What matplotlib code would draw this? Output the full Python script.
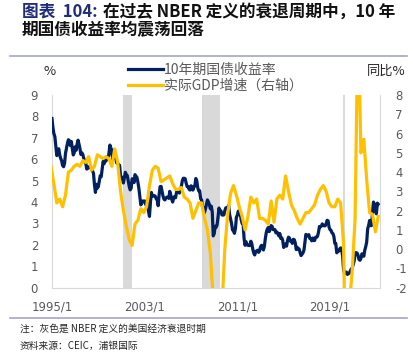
import pandas as pd
import matplotlib.pyplot as plt
from matplotlib.lines import Line2D

plt.rcParams['font.family'] = ['Noto Sans CJK SC', 'DejaVu Sans']

# 10年期国债收益率, monthly 1995/1 - 2023/3 (%)
yield_10y = [
    7.90, 7.47, 7.20, 7.06, 6.63, 6.17, 6.28, 6.49, 6.20, 6.04, 5.93, 5.71,  # 1995
    5.65, 5.81, 6.27, 6.51, 6.74, 6.91, 6.87, 6.64, 6.83, 6.53, 6.20, 6.30,  # 1996
    6.58, 6.42, 6.69, 6.89, 6.71, 6.49, 6.22, 6.30, 6.21, 6.03, 5.88, 5.81,  # 1997
    5.54, 5.57, 5.65, 5.64, 5.65, 5.50, 5.46, 5.34, 4.81, 4.45, 4.83, 4.65,  # 1998
    4.72, 5.00, 5.23, 5.18, 5.54, 5.90, 5.79, 5.94, 5.92, 6.11, 6.03, 6.28,  # 1999
    6.66, 6.52, 6.26, 5.99, 6.44, 6.10, 6.05, 5.83, 5.80, 5.74, 5.72, 5.24,  # 2000
    5.16, 5.10, 4.89, 5.14, 5.39, 5.28, 5.24, 4.97, 4.73, 4.57, 4.65, 5.09,  # 2001
    5.04, 4.91, 5.28, 5.21, 5.16, 4.93, 4.65, 4.26, 3.87, 3.94, 4.05, 4.03,  # 2002
    4.05, 3.90, 3.81, 3.96, 3.57, 3.33, 3.98, 4.45, 4.27, 4.29, 4.30, 4.27,  # 2003
    4.15, 4.08, 3.83, 4.35, 4.72, 4.73, 4.50, 4.28, 4.13, 4.10, 4.19, 4.23,  # 2004
    4.22, 4.17, 4.50, 4.34, 4.14, 4.00, 4.18, 4.26, 4.20, 4.46, 4.54, 4.47,  # 2005
    4.42, 4.57, 4.72, 4.99, 5.11, 5.11, 5.09, 4.88, 4.72, 4.73, 4.60, 4.56,  # 2006
    4.76, 4.72, 4.56, 4.69, 4.75, 5.10, 5.00, 4.67, 4.52, 4.53, 4.15, 4.10,  # 2007
    3.74, 3.74, 3.51, 3.68, 3.88, 4.10, 4.01, 3.89, 3.69, 3.81, 3.53, 2.42,  # 2008
    2.52, 2.87, 2.82, 2.93, 3.29, 3.72, 3.56, 3.59, 3.40, 3.39, 3.40, 3.59,  # 2009
    3.73, 3.69, 3.73, 3.85, 3.42, 3.20, 3.01, 2.70, 2.65, 2.54, 2.76, 3.29,  # 2010
    3.39, 3.58, 3.41, 3.46, 3.17, 3.00, 3.00, 2.30, 1.98, 2.15, 2.01, 1.98,  # 2011
    1.97, 1.97, 2.17, 2.05, 1.80, 1.62, 1.53, 1.68, 1.72, 1.75, 1.65, 1.72,  # 2012
    1.91, 1.98, 1.96, 1.76, 1.93, 2.30, 2.58, 2.74, 2.81, 2.62, 2.72, 2.90,  # 2013
    2.86, 2.71, 2.72, 2.71, 2.56, 2.60, 2.54, 2.42, 2.53, 2.30, 2.33, 2.21,  # 2014
    1.88, 1.98, 2.04, 1.94, 2.20, 2.36, 2.32, 2.17, 2.17, 2.07, 2.26, 2.24,  # 2015
    2.09, 1.78, 1.89, 1.81, 1.81, 1.64, 1.50, 1.56, 1.63, 1.76, 2.14, 2.49,  # 2016
    2.43, 2.42, 2.48, 2.30, 2.30, 2.19, 2.32, 2.21, 2.20, 2.36, 2.35, 2.40,  # 2017
    2.58, 2.86, 2.84, 2.87, 2.98, 2.91, 2.89, 2.89, 3.00, 3.15, 3.12, 2.83,  # 2018
    2.71, 2.68, 2.57, 2.53, 2.40, 2.07, 2.06, 1.63, 1.70, 1.71, 1.81, 1.86,  # 2019
    1.76, 1.50, 0.87, 0.66, 0.67, 0.73, 0.62, 0.65, 0.68, 0.79, 0.87, 0.93,  # 2020
    1.08, 1.26, 1.61, 1.64, 1.62, 1.52, 1.32, 1.28, 1.37, 1.58, 1.56, 1.47,  # 2021
    1.76, 1.93, 2.13, 2.75, 2.90, 3.14, 2.90, 2.90, 3.52, 4.00, 3.90, 3.60,  # 2022
    3.45, 3.95, 3.90,                                                        # 2023
]

# 实际GDP增速 同比, quarterly 1994Q4 - 2023Q1 (%)
gdp_yoy = [
    4.3,                  # 1994Q4
    3.4, 2.4, 2.6, 2.2,   # 1995
    2.8, 4.0, 4.1, 4.3,   # 1996
    4.4, 4.3, 4.6, 4.5,   # 1997
    4.8, 4.1, 4.3, 4.9,   # 1998
    4.8, 4.7, 4.8, 4.7,   # 1999
    4.3, 5.2, 4.5, 3.0,   # 2000
    2.0, 1.2, 0.5, 0.2,   # 2001
    1.3, 1.5, 2.1, 1.9,   # 2002
    2.2, 3.3, 4.1, 4.3,   # 2003
    4.2, 3.5, 3.6, 3.7,   # 2004
    3.8, 3.4, 3.1, 3.1,   # 2005
    3.2, 2.7, 2.6, 2.4,   # 2006
    1.6, 2.0, 2.4, 2.4,   # 2007
    1.6, 1.0, -0.2, -2.6, # 2008
    -3.3, -3.9, -3.1, 0.0,  # 2009
    1.8, 2.9, 3.3, 2.8,   # 2010
    2.2, 1.7, 1.0, 1.7,   # 2011
    2.7, 2.4, 2.6, 1.6,   # 2012
    1.6, 1.5, 1.3, 2.5,   # 2013
    1.4, 2.6, 2.8, 2.6,   # 2014
    3.8, 3.0, 2.3, 2.0,   # 2015
    1.6, 1.3, 1.6, 1.9,   # 2016
    1.9, 2.1, 2.3, 2.8,   # 2017
    3.1, 3.3, 3.0, 2.4,   # 2018
    2.2, 2.2, 2.6, 2.4,   # 2019
    0.3, -8.4, -2.9, -1.1,  # 2020
    1.6, 12.2, 5.0, 5.7,  # 2021
    3.6, 1.9, 1.8, 0.9,   # 2022
    1.7,                  # 2023Q1
]

# NBER recessions
recessions = [('2001-03-01', '2001-11-30'),
              ('2007-12-01', '2009-06-30'),
              ('2020-02-01', '2020-04-30')]

xtick_years = [1995, 2003, 2011, 2019]

months = pd.date_range('1995-01-01', periods=len(yield_10y), freq='MS')
quarters = pd.date_range('1994-12-01', periods=len(gdp_yoy), freq='3MS')

W, H = 413, 355
fig = plt.figure(figsize=(W / 100, H / 100), dpi=100)
ax = fig.add_axes([52 / W, 1 - 287.7 / H, (380 - 52) / W, (287.7 - 95) / H])
ax2 = ax.twinx()

for start, end in recessions:
    ax.axvspan(pd.Timestamp(start), pd.Timestamp(end), color='#D9D9D9', lw=0, zorder=0)

l1, = ax.plot(months, yield_10y, color='#002060', lw=2.3, solid_joinstyle='round', zorder=3)
l2, = ax2.plot(quarters, gdp_yoy, color='#FFC000', lw=2.3, solid_joinstyle='round')

ax.set_xlim(pd.Timestamp('1995-01-01'), pd.Timestamp('2023-04-25'))
ax.set_ylim(0, 9)
ax2.set_ylim(-2, 8)

ax.set_xticks([pd.Timestamp(f'{y}-01-01') for y in xtick_years])
ax.set_xticklabels([f'{y}/1' for y in xtick_years], fontfamily='DejaVu Sans')
ax.set_yticks(range(0, 10))
ax.set_yticklabels([str(v) for v in range(0, 10)], fontfamily='DejaVu Sans')
ax2.set_yticks(range(-2, 9))
ax2.set_yticklabels([str(v) for v in range(-2, 9)], fontfamily='DejaVu Sans')

for a in (ax, ax2):
    a.tick_params(length=0, colors='#595959', labelsize=8.4)
    for s in a.spines.values():
        s.set_color('#D9D9D9')
        s.set_linewidth(0.8)
    a.spines['top'].set_visible(False)
ax.tick_params(axis='y', pad=10)
ax.tick_params(axis='x', pad=9)
ax2.tick_params(axis='y', pad=11)
ax.spines['right'].set_visible(False)
ax2.spines['left'].set_visible(False)
ax2.spines['bottom'].set_visible(False)

# legend
fig.legend([l1, l2], ['10年期国债收益率', '实际GDP增速（右轴）'],
           loc='upper left', bbox_to_anchor=(128 / W, 1 - 63 / H),
           frameon=False, fontsize=10, labelcolor='#595959',
           handlelength=2.5, handletextpad=0.1, labelspacing=0.15,
           borderpad=0, borderaxespad=0)

fig.text(50 / W, 1 - 71.7 / H, '%', fontsize=9.5, color='#262626', ha='center', va='center')
fig.text(386 / W, 1 - 71.7 / H, '同比%', fontsize=9.5, color='#262626', ha='center', va='center')

# title
fig.text(22 / W, 1 - 12 / H, '图表  104:', fontsize=12, fontweight='bold', color='#1F2D7A', va='center')
fig.text(103 / W, 1 - 12 / H, '在过去 NBER 定义的衰退周期中，10 年', fontsize=12,
         fontweight='bold', color='#111111', va='center')
fig.text(22 / W, 1 - 30 / H, '期国债收益率均震荡回落', fontsize=12,
         fontweight='bold', color='#111111', va='center')

fig.add_artist(Line2D([10 / W, 407 / W], [1 - 56 / H] * 2, color='#A5A5C9', lw=1.2))
fig.add_artist(Line2D([10 / W, 407 / W], [1 - 317.7 / H] * 2, color='#A5A5C9', lw=1.2))

# notes
fig.text(20 / W, 1 - 329 / H, '注：灰色是 NBER 定义的美国经济衰退时期', fontsize=7, color='#262626', va='center')
fig.text(20 / W, 1 - 345.5 / H, '资料来源：CEIC，浦银国际', fontsize=7, color='#262626', va='center')

plt.savefig('out.png', dpi=100)
